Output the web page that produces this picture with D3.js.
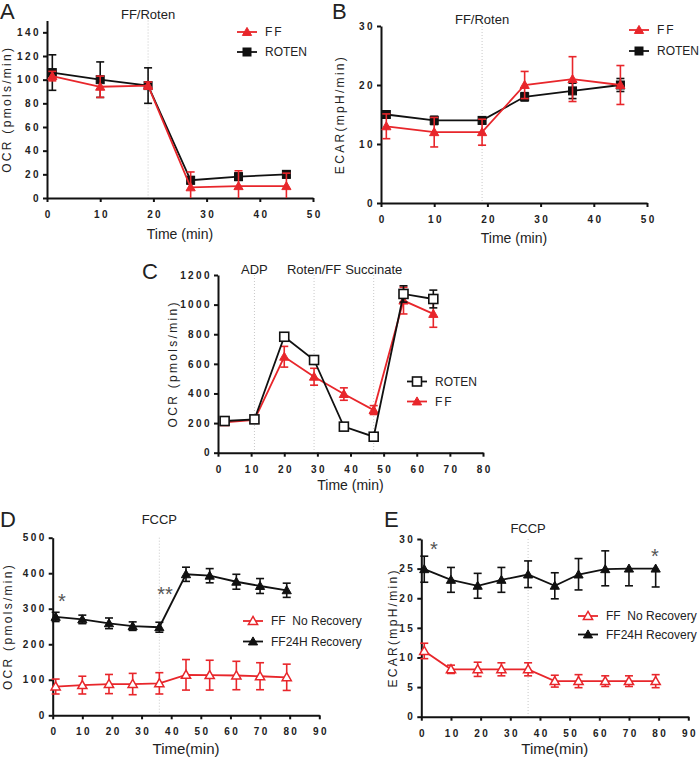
<!DOCTYPE html>
<html>
<head>
<meta charset="utf-8">
<script src="https://cdn.jsdelivr.net/npm/d3@7"></script>
<style>
  body { margin: 0; background: #fff; }
  svg { font-family: "Liberation Sans", Arial, sans-serif; }
  svg text { white-space: pre; }
</style>
</head>
<body>
<script>
// ---- data ----
const abTime = [1, 10, 19, 27, 36, 45];
const aFF = [103, 94, 95, 9, 10, 10];
const aFFerr = [4, 9, 3, 13, 13, 11];
const aRoten = [106, 100, 95, 15, 18, 20];
const aRotenErr = [15, 15, 15, 3, 3, 3];

const bFF = [13, 12, 12, 20, 21, 20];
const bFFerr = [2.1, 2.5, 2.2, 2.3, 3.8, 3.3];
const bRoten = [15, 14, 14, 18, 19, 20];
const bRotenErr = [0.6, 0.7, 0.6, 0.7, 1.3, 1.1];

const cTime = [2, 11, 20, 29, 38, 47, 56, 65];
const cRoten = [214, 225, 783, 626, 176, 108, 1072, 1038];
const cRotenErr = [15, 15, 15, 15, 10, 10, 55, 60];
const cFF = [205, 221, 648, 513, 396, 288, 1027, 937];
const cFFerr = [15, 15, 70, 57, 42, 30, 90, 90];

const deTime = [1, 10, 19, 27, 36, 45, 53, 62, 70, 79];
const dRec = [277, 270, 259, 251, 248, 397, 393, 376, 364, 352];
const dRecErr = [13, 12, 15, 12, 14, 20, 20, 21, 21, 20];
const dNoRec = [81, 85, 88, 88, 90, 114, 113, 112, 110, 107];
const dNoRecErr = [21, 25, 27, 30, 30, 43, 42, 40, 38, 37];

const eRec = [24.9, 23.1, 22.1, 23.1, 24, 22.1, 24, 24.9, 25, 25];
const eRecErrLo = [2.2, 2.1, 2.1, 2.1, 2.2, 2.2, 2.6, 2.8, 2.9, 3.1];
const eRecErrHi = [2.2, 2.1, 2.1, 2.1, 2.3, 2.2, 2.7, 3.1, 0, 0];
const eNoRec = [11.1, 8, 8, 8, 8, 6, 6, 6, 6, 6];
const eNoRecErr = [1.3, 0.7, 1.2, 1.1, 1.1, 1, 1.1, 0.9, 0.9, 1.1];

const RED = "#e8262b";
const BLACK = "#111";

const panels = [
  {
    letter: "A", lx: 0, ly: 19,
    x0: 47, x1: 313, yb: 198, yt: 20.5,
    xDomain: [0, 50], xTicks: d3.range(0, 51, 10),
    yDomain: [0, 150], yTicks: d3.range(0, 141, 20),
    yLabel: "OCR (pmols/min)", yLabelX: 7,
    xLabel: "Time (min)", xLabelY: 239, xLabelSize: 14,
    marks: [{ x: 19, text: "FF/Roten", y: 19 }],
    series: [
      { name: "ROTEN", t: abTime, v: aRoten, lo: aRotenErr, hi: aRotenErr, color: BLACK, shape: "square", fill: true },
      { name: "FF", t: abTime, v: aFF, lo: aFFerr, hi: aFFerr, color: RED, shape: "triangle", fill: true }
    ],
    legendOrder: ["FF", "ROTEN"], legX: 237, legY: 32, legGap: 20
  },
  {
    letter: "B", lx: 332, ly: 19,
    x0: 381, x1: 647, yb: 203, yt: 26,
    xDomain: [0, 50], xTicks: d3.range(0, 51, 10),
    yDomain: [0, 30], yTicks: [0, 10, 20, 30],
    yLabel: "ECAR(mpH/min)", yLabelX: 340,
    xLabel: "Time (min)", xLabelY: 243, xLabelSize: 14,
    marks: [{ x: 19, text: "FF/Roten", y: 24 }],
    series: [
      { name: "ROTEN", t: abTime, v: bRoten, lo: bRotenErr, hi: bRotenErr, color: BLACK, shape: "square", fill: true },
      { name: "FF", t: abTime, v: bFF, lo: bFFerr, hi: bFFerr, color: RED, shape: "triangle", fill: true }
    ],
    legendOrder: ["FF", "ROTEN"], legX: 629, legY: 30, legGap: 21
  },
  {
    letter: "C", lx: 142, ly: 279,
    x0: 218, x1: 483, yb: 452.7, yt: 275,
    xDomain: [0, 80], xTicks: d3.range(0, 81, 10),
    yDomain: [0, 1200], yTicks: d3.range(0, 1201, 200),
    yLabel: "OCR (pmols/min)", yLabelX: 173,
    xLabel: "Time (min)", xLabelY: 490, xLabelSize: 14,
    marks: [
      { x: 11, text: "ADP", y: 274 },
      { x: 29, text: "Roten/FF", y: 274 },
      { x: 47, text: "Succinate", y: 274 }
    ],
    series: [
      { name: "FF", t: cTime, v: cFF, lo: cFFerr, hi: cFFerr, color: RED, shape: "triangle", fill: true },
      { name: "ROTEN", t: cTime, v: cRoten, lo: cRotenErr, hi: cRotenErr, color: BLACK, shape: "square", fill: false }
    ],
    legendOrder: ["ROTEN", "FF"], legX: 407, legY: 381.5, legGap: 20
  },
  {
    letter: "D", lx: 0, ly: 527,
    x0: 52.7, x1: 319.3, yb: 715.3, yt: 537.7,
    xDomain: [0, 90], xTicks: d3.range(0, 91, 10),
    yDomain: [0, 500], yTicks: d3.range(0, 501, 100),
    yLabel: "OCR (pmols/min)", yLabelX: 8,
    xLabel: "Time(min)", xLabelY: 754, xLabelSize: 15,
    marks: [{ x: 36, text: "FCCP", y: 524 }],
    series: [
      { name: "FF  No Recovery", t: deTime, v: dNoRec, lo: dNoRecErr, hi: dNoRecErr, color: RED, shape: "triangle", fill: false },
      { name: "FF24H Recovery", t: deTime, v: dRec, lo: dRecErr, hi: dRecErr, color: BLACK, shape: "triangle", fill: true }
    ],
    legendOrder: ["FF  No Recovery", "FF24H Recovery"], legX: 243, legY: 621, legGap: 20.5,
    stars: [{ x: 62, y: 608, text: "*" }, { x: 165, y: 601, text: "**" }]
  },
  {
    letter: "E", lx: 384, ly: 527,
    x0: 421.3, x1: 688.3, yb: 716.7, yt: 539,
    xDomain: [0, 90], xTicks: d3.range(0, 91, 10),
    yDomain: [0, 30], yTicks: d3.range(0, 31, 5),
    yLabel: "ECAR(mpH/min)", yLabelX: 393,
    xLabel: "Time(min)", xLabelY: 754, xLabelSize: 15,
    marks: [{ x: 36, text: "FCCP", y: 533 }],
    series: [
      { name: "FF  No Recovery", t: deTime, v: eNoRec, lo: eNoRecErr, hi: eNoRecErr, color: RED, shape: "triangle", fill: false },
      { name: "FF24H Recovery", t: deTime, v: eRec, lo: eRecErrLo, hi: eRecErrHi, color: BLACK, shape: "triangle", fill: true }
    ],
    legendOrder: ["FF  No Recovery", "FF24H Recovery"], legX: 578, legY: 616, legGap: 18.5,
    stars: [{ x: 434, y: 556, text: "*" }, { x: 655, y: 563, text: "*" }]
  }
];

const svg = d3.select("body").append("svg")
  .attr("width", 700)
  .attr("height", 760);

const drawMarker = (g, shape, x, y, color, fill) => {
  if (shape === "square") {
    const s = fill ? 8 : 9;
    g.append("rect")
      .attr("x", x - s / 2).attr("y", y - s / 2)
      .attr("width", s).attr("height", s)
      .attr("fill", fill ? color : "#fff")
      .attr("stroke", color)
      .attr("stroke-width", fill ? 1 : 1.6);
  } else {
    const s = 4.6;
    g.append("path")
      .attr("d", `M${x},${y - s}L${x + s},${y + s * 0.75}L${x - s},${y + s * 0.75}Z`)
      .attr("fill", fill ? color : "#fff")
      .attr("stroke", color)
      .attr("stroke-width", fill ? 1 : 1.5);
  }
};

panels.forEach((p) => {
  const g = svg.append("g");
  const x = d3.scaleLinear().domain(p.xDomain).range([p.x0, p.x1]);
  const y = d3.scaleLinear().domain(p.yDomain).range([p.yb, p.yt]);

  // panel letter
  g.append("text")
    .attr("x", p.lx).attr("y", p.ly)
    .attr("font-size", 22)
    .attr("fill", "#222")
    .text(p.letter);

  // treatment markers (dotted lines + labels)
  p.marks.forEach((m) => {
    g.append("line")
      .attr("x1", x(m.x)).attr("x2", x(m.x))
      .attr("y1", p.yt).attr("y2", p.yb)
      .attr("stroke", "#c8c8c8")
      .attr("stroke-width", 1)
      .attr("stroke-dasharray", "1,2");
    g.append("text")
      .attr("x", x(m.x)).attr("y", m.y)
      .attr("text-anchor", "middle")
      .attr("font-size", 13)
      .attr("fill", "#222")
      .text(m.text);
  });

  // axes
  const xAxis = d3.axisBottom(x).tickValues(p.xTicks).tickSize(4).tickSizeOuter(0).tickPadding(9);
  const yAxis = d3.axisLeft(y).tickValues(p.yTicks).tickFormat(d3.format("d"))
    .tickSize(4).tickSizeOuter(0).tickPadding(2);

  const gx = g.append("g").attr("transform", "translate(0," + p.yb + ")").call(xAxis);
  const gy = g.append("g").attr("transform", "translate(" + p.x0 + ",0)").call(yAxis);
  [gx, gy].forEach((ax) => {
    ax.select(".domain").attr("stroke", "#111").attr("stroke-width", 2);
    ax.selectAll(".tick line").attr("stroke", "#111").attr("stroke-width", 2);
    ax.selectAll(".tick text")
      .attr("font-family", "'Liberation Sans', Arial, sans-serif")
      .attr("font-size", 10)
      .attr("font-weight", "bold")
      .attr("letter-spacing", "2.4px")
      .attr("fill", "#222");
  });
  gx.selectAll(".tick text").attr("dx", "1.2px");

  // axis labels
  g.append("text")
    .attr("x", (p.x0 + p.x1) / 2)
    .attr("y", p.xLabelY)
    .attr("text-anchor", "middle")
    .attr("font-size", p.xLabelSize)
    .attr("fill", "#222")
    .text(p.xLabel);
  g.append("text")
    .attr("transform", `translate(${p.yLabelX},${(p.yb + p.yt) / 2}) rotate(-90)`)
    .attr("text-anchor", "middle")
    .attr("dy", "0.35em")
    .attr("font-size", 12)
    .attr("letter-spacing", "2.3px")
    .attr("fill", "#222")
    .text(p.yLabel);

  // series: line, error bars, markers
  p.series.forEach((s) => {
    const pts = s.t.map((t, i) => ({ t: t, v: s.v[i], lo: s.lo[i], hi: s.hi[i] }));
    g.append("path")
      .datum(pts)
      .attr("fill", "none")
      .attr("stroke", s.color)
      .attr("stroke-width", 1.8)
      .attr("d", d3.line().x((d) => x(d.t)).y((d) => y(d.v)));

    pts.forEach((d) => {
      const top = y(d.v + d.hi);
      const bot = y(Math.max(p.yDomain[0], d.v - d.lo));
      const cx = x(d.t);
      g.append("line")
        .attr("x1", cx).attr("x2", cx)
        .attr("y1", top).attr("y2", bot)
        .attr("stroke", s.color).attr("stroke-width", 1.6);
      if (d.hi > 0) {
        g.append("line")
          .attr("x1", cx - 4).attr("x2", cx + 4)
          .attr("y1", top).attr("y2", top)
          .attr("stroke", s.color).attr("stroke-width", 1.6);
      }
      if (d.v - d.lo > p.yDomain[0]) {
        g.append("line")
          .attr("x1", cx - 4).attr("x2", cx + 4)
          .attr("y1", bot).attr("y2", bot)
          .attr("stroke", s.color).attr("stroke-width", 1.6);
      }
    });
    pts.forEach((d) => drawMarker(g, s.shape, x(d.t), y(d.v), s.color, s.fill));
  });

  // legend
  p.legendOrder.forEach((name, i) => {
    const s = p.series.find((q) => q.name === name);
    const ly = p.legY + i * p.legGap;
    g.append("line")
      .attr("x1", p.legX).attr("x2", p.legX + 20)
      .attr("y1", ly).attr("y2", ly)
      .attr("stroke", s.color).attr("stroke-width", 1.8);
    drawMarker(g, s.shape, p.legX + 10, ly, s.color, s.fill);
    g.append("text")
      .attr("x", p.legX + 28).attr("y", ly)
      .attr("dy", "0.35em")
      .attr("font-size", 12)
      .attr("letter-spacing", name === "FF" ? "2px" : "0px")
      .attr("fill", "#222")
      .text(name);
  });

  // significance stars
  (p.stars || []).forEach((st) => {
    g.append("text")
      .attr("x", st.x).attr("y", st.y)
      .attr("text-anchor", "middle")
      .attr("font-size", 20)
      .attr("fill", "#555")
      .text(st.text);
  });
});
</script>
</body>
</html>
